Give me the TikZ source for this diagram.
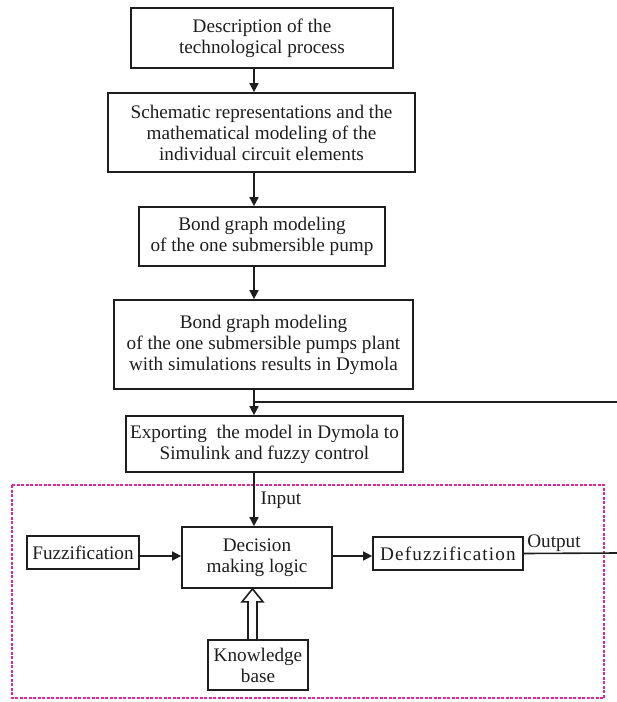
\documentclass[tikz,border=0pt]{standalone}
\usepackage{fontspec}
\setmainfont{Liberation Serif}
\newfontfamily\spacedfont[LetterSpace=6]{Liberation Serif}
\usetikzlibrary{arrows.meta,calc}
\definecolor{dashpink}{RGB}{222,40,150}
\definecolor{inkgray}{RGB}{30,30,30}
\begin{document}
\begin{tikzpicture}[x=1pt,y=-1pt,
  box/.style={draw=inkgray,line width=1.7pt,align=center,inner sep=0pt,
    font=\fontsize{19.2}{21}\selectfont,text=inkgray},
  conn/.style={draw=inkgray,line width=1.6pt,-{Triangle[length=9pt,width=9pt]}},
  plain/.style={draw=inkgray,line width=1.6pt},
  lbl/.style={font=\fontsize{19.2}{21}\selectfont,text=inkgray,inner sep=0pt}]
\useasboundingbox (0,0) rectangle (617,702);
% dashed frame
\draw[dashpink,line width=1.4pt,dash pattern=on 3pt off 1.5pt] (12,485) rectangle (604,698);
% boxes
\node[box,minimum width=262pt,minimum height=60pt] (b1) at (262,38) {Description of the\\technological process};
\node[box,minimum width=307pt,minimum height=79pt] (b2) at (261.5,132.5) {Schematic representations and the\\mathematical modeling of the\\individual circuit elements};
\node[box,minimum width=246pt,minimum height=59pt] (b3) at (262,236.5) {Bond graph modeling\\of the one submersible pump};
\node[box,minimum width=299pt,minimum height=89pt] (b4) at (263.5,344.5) {Bond graph modeling\\of the one submersible pumps plant\\with simulations results in Dymola};
\node[box,minimum width=277pt,minimum height=56pt] (b5) at (264.5,444) {Exporting\ \ the model in Dymola to\\Simulink and fuzzy control};
\node[box,minimum width=150pt,minimum height=61pt] (dm) at (257,557.5) {Decision\\making logic};
\node[box,minimum width=112pt,minimum height=33pt] (fz) at (83,552.5) {Fuzzification};
\node[box,minimum width=150pt,minimum height=33pt] (dz) at (448,553.5) {\spacedfont Defuzzification};
\node[box,minimum width=100pt,minimum height=50pt] (kb) at (258,665) {Knowledge\\base};
\node[lbl] (in) at (281,500) {Input};
\node[lbl] (out) at (554,543) {Output};
% connectors
\draw[conn] (b1.south -| 254,0) -- (b2.north -| 254,0);
\draw[conn] (b2.south -| 254,0) -- (b3.north -| 254,0);
\draw[conn] (b3.south -| 254,0) -- (b4.north -| 254,0);
\draw[conn] (b4.south -| 254,0) -- (b5.north -| 254,0);
\coordinate (fbstart) at (254,402);
\coordinate (fbend) at (617,402);
\draw[plain] (fbstart) -- (fbend);
\draw[conn] (b5.south -| 254,0) -- (dm.north -| 254,0);
\draw[conn] (fz.east |- 0,556) -- (dm.west |- 0,556);
\draw[conn] (dm.east |- 0,556) -- (dz.west |- 0,556);
\coordinate (outend) at (617,553);
\draw[plain] (dz.east) -- (outend);
% hollow arrow from knowledge base
\draw[inkgray,line width=1.6pt,line join=miter]
  ($(kb.north)+(-10,0)$) -- ($(dm.south -| 248,0)+(0,13)$) -- ($(dm.south -| 242,0)+(0,13)$)
  -- (dm.south -| 252.5,0) -- ($(dm.south -| 263,0)+(0,13)$) -- ($(dm.south -| 257,0)+(0,13)$)
  -- ($(kb.north)+(-1,0)$);
\end{tikzpicture}
\end{document}
